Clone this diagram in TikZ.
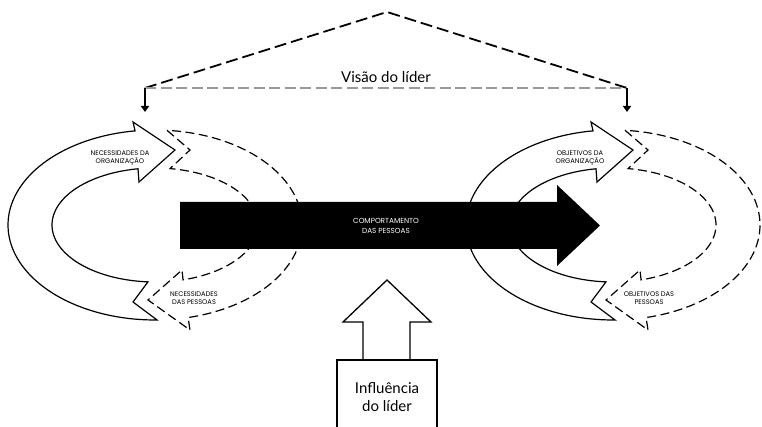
\documentclass[tikz,border=0pt]{standalone}
\usepackage{fontspec}
\setmainfont{Lato}
\newfontfamily\capsfont{Poppins}
\usetikzlibrary{arrows.meta}

% One loop: solid half (left, arrowhead at the top) and dashed half (right, arrowhead at the bottom)
\newcommand{\looprings}{%
  \path[solidring]
    ({155+147*cos(262.2)},{225+95*sin(262.2)}) -- (133,122) -- (175,150) -- (139,182)
    -- plot[domain=260.5:93.9,samples=60] ({155+103*cos(\x)},{225+57*sin(\x)})
    -- (133,302)
    -- plot[domain=89.2:262.2,samples=80] ({155+147*cos(\x)},{225+95*sin(\x)}) -- cycle;
  \path[dashring]
    ({155+147*cos(-85.3)},{225+95*sin(-85.3)}) -- (190,150)
    -- plot[domain=-81.6:74.2,samples=60] ({155+103*cos(\x)},{225+57*sin(\x)})
    -- (182,270) -- (148,300) -- (190,330)
    -- plot[domain=77:-85.3,samples=80] ({155+147*cos(\x)},{225+95*sin(\x)}) -- cycle;
}

\begin{document}
\begin{tikzpicture}[x=1pt,y=-1pt,
  solidring/.style={draw=black,fill=white,line width=1.2pt,line join=miter},
  dashring/.style={draw=black,fill=white,line width=1.2pt,dash pattern=on 9pt off 4.5pt},
  capslabel/.style={font=\capsfont\fontsize{6.7}{8.3}\selectfont,align=center,inner sep=0pt},
  biglabel/.style={font=\fontsize{15}{18}\selectfont,align=center,inner sep=0pt},
  blackdash/.style={draw=black,line width=1.8pt,dash pattern=on 12pt off 5pt},
  graydash/.style={draw=black!40,line width=1.8pt,dash pattern=on 11pt off 4.5pt},
  dropline/.style={draw=black,line width=1.5pt,-{Triangle[length=6pt,width=8pt]}},
  outlinebox/.style={draw=black,fill=white,line width=1.3pt,line join=miter}]
\useasboundingbox (0,0) rectangle (762,427);

% left and right loops
\begin{scope}
  \looprings
\end{scope}
\begin{scope}[xshift=458pt]
  \looprings
\end{scope}

% loop labels
\node[capslabel] (necorg) at (120,158) {NECESSIDADES DA\\ORGANIZAÇÃO};
\node[capslabel] (necpes) at (194,298) {NECESSIDADES\\DAS PESSOAS};
\node[capslabel] (objorg) at (580,158) {OBJETIVOS DA\\ORGANIZAÇÃO};
\node[capslabel] (objpes) at (649,298) {OBJETIVOS DAS\\PESSOAS};

% central black arrow
\path[fill=black] (180,202) -- (557,202) -- (557,185) -- (600,225.5)
  -- (557,266) -- (557,249) -- (180,249) -- cycle;
\node[capslabel,text=white,font=\capsfont\fontsize{7.3}{10.5}\selectfont] (comp) at (386,226)
  {COMPORTAMENTO\\DAS PESSOAS};

% leader's vision
\coordinate (apex) at (387,12);
\coordinate (visl) at (145,88);
\coordinate (visr) at (627,88);
\coordinate (dropl) at (145,112);
\coordinate (dropr) at (627,112);
\draw[blackdash] (visl) -- (apex) -- (visr);
\draw[graydash] (visl) -- (visr);
\draw[dropline] (visl) -- (dropl);
\draw[dropline] (visr) -- (dropr);
\node[biglabel,anchor=base] (visao) at (386,83) {Visão do líder};

% leader's influence
\path[outlinebox] (363,360) -- (363,322) -- (343,322) -- (387,280) -- (431,322)
  -- (410,322) -- (410,360);
\path[outlinebox] (337,430) -- (337,360) -- (437,360) -- (437,430);
\node[biglabel] (influ) at (387,397) {Influência\\do líder};
\end{tikzpicture}
\end{document}
